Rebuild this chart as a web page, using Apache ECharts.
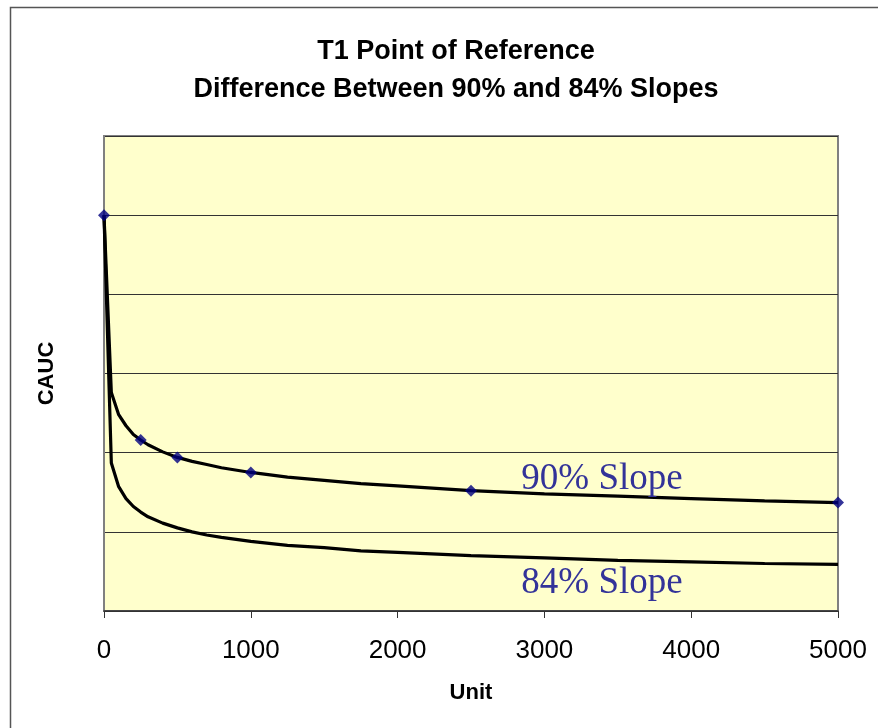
<!DOCTYPE html>
<html>
<head>
<meta charset="utf-8">
<script src="https://cdn.jsdelivr.net/npm/echarts@6/dist/echarts.min.js"></script>
<style>
  html, body { margin: 0; padding: 0; background: #fff; }
  #chart { width: 878px; height: 728px; }
</style>
</head>
<body>
<div id="chart"></div>
<script>
// units along the x axis
var units = [0, 50, 100, 150, 200, 250, 300, 400, 500, 600, 700, 800, 1000,
  1250, 1500, 1750, 2000, 2500, 3000, 3500, 4000, 4500, 5000];

// CAUC (T1 = 5 on an unlabeled 0..6 scale)
var slope90 = [5, 2.76, 2.48, 2.34, 2.23, 2.16, 2.10, 2.01, 1.94, 1.89, 1.85, 1.81, 1.75,
  1.69, 1.65, 1.61, 1.58, 1.52, 1.48, 1.45, 1.42, 1.39, 1.37];
var slope84 = [5, 1.87, 1.57, 1.42, 1.32, 1.25, 1.19, 1.11, 1.05, 1.00, 0.96, 0.93, 0.88,
  0.83, 0.80, 0.76, 0.74, 0.70, 0.67, 0.64, 0.62, 0.60, 0.59];

// diamond markers on the 90% curve
var markerUnits = [0, 250, 500, 1000, 2500, 5000];
var markerValues = [5, 2.16, 1.94, 1.75, 1.52, 1.37];

var xTicks = [0, 1000, 2000, 3000, 4000, 5000];

function pairs(xs, ys) {
  return xs.map(function (x, i) {
    return [x, ys[i]];
  });
}

var myChart = echarts.init(document.getElementById("chart"));
var option = {
  backgroundColor: "#ffffff",
  animation: false,
  title: {
    text: "T1 Point of Reference\nDifference Between 90% and 84% Slopes",
    left: 451,
    top: 28,
    textAlign: "center",
    textStyle: {
      fontFamily: "Liberation Sans",
      fontWeight: "bold",
      fontSize: 27,
      lineHeight: 38,
      color: "#000",
    },
  },
  grid: {
    left: 104,
    right: 40,
    top: 136,
    bottom: 117,
    show: true,
    backgroundColor: "#FFFFCC",
    borderColor: "#808080",
    borderWidth: 2,
  },
  xAxis: {
    type: "value",
    min: 0,
    max: 5000,
    interval: 1000,
    name: "Unit",
    nameLocation: "middle",
    nameGap: 71,
    nameTextStyle: {
      fontFamily: "Liberation Sans",
      fontWeight: "bold",
      fontSize: 22,
      color: "#000",
    },
    axisLine: { lineStyle: { color: "#333", width: 1.5 } },
    axisTick: { length: 7, lineStyle: { color: "#333" } },
    axisLabel: {
      margin: 27,
      fontFamily: "Liberation Sans",
      fontSize: 26,
      color: "#000",
      formatter: function (v) {
        return xTicks.indexOf(v) >= 0 ? String(v) : "";
      },
    },
    splitLine: { show: false },
  },
  yAxis: {
    type: "value",
    min: 0,
    max: 6,
    interval: 1,
    name: "CAUC",
    nameLocation: "middle",
    nameGap: 46,
    nameTextStyle: {
      fontFamily: "Liberation Sans",
      fontWeight: "bold",
      fontSize: 22,
      color: "#000",
    },
    axisLine: { show: true, lineStyle: { color: "#808080", width: 2 } },
    axisTick: { show: false },
    axisLabel: { show: false },
    splitLine: { lineStyle: { color: "#333", width: 1 } },
  },
  series: [
    {
      name: "84% Slope",
      type: "line",
      data: pairs(units, slope84),
      symbol: "none",
      lineStyle: { color: "#000", width: 3.2 },
    },
    {
      name: "90% Slope",
      type: "line",
      data: pairs(units, slope90),
      symbol: "none",
      lineStyle: { color: "#000", width: 3.2 },
    },
    {
      name: "Points",
      type: "scatter",
      data: pairs(markerUnits, markerValues),
      symbol: "diamond",
      symbolSize: 12,
      itemStyle: { color: "#000080" },
      z: 5,
    },
  ],
  graphic: [
    {
      type: "rect",
      shape: { x: 10.5, y: 7.5, width: 900, height: 760 },
      style: { fill: null, stroke: "#555", lineWidth: 1.5 },
      silent: true,
    },
    {
      type: "text",
      x: 602,
      y: 479,
      style: {
        text: "90% Slope",
        fontFamily: "Liberation Serif",
        fontSize: 37,
        fill: "#333399",
        align: "center",
        verticalAlign: "middle",
      },
      z: 10,
    },
    {
      type: "text",
      x: 602,
      y: 583,
      style: {
        text: "84% Slope",
        fontFamily: "Liberation Serif",
        fontSize: 37,
        fill: "#333399",
        align: "center",
        verticalAlign: "middle",
      },
      z: 10,
    },
  ],
};
myChart.setOption(option);
</script>
</body>
</html>
